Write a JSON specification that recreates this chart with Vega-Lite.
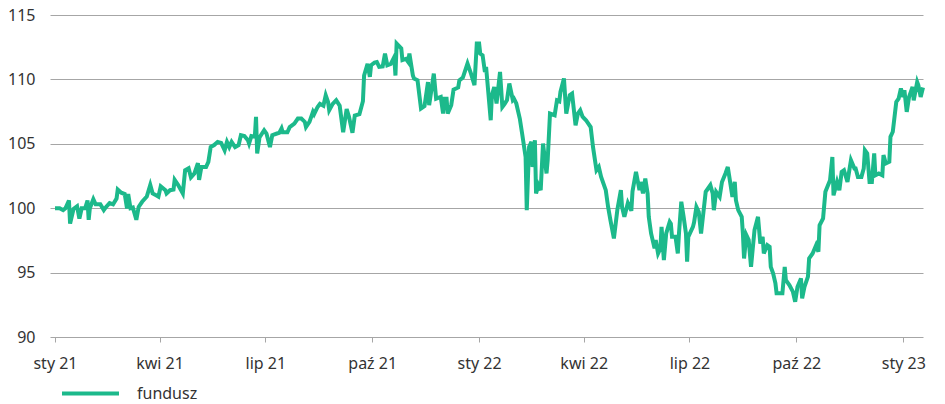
{
"$schema": "https://vega.github.io/schema/vega-lite/v6.json",
"width": 873,
"height": 322,
"autosize": {"type": "none"},
"padding": {"left": 50, "top": 15, "right": 22, "bottom": 67},
"background": "white",
"config": {"view": {"stroke": null}, "font": "Noto Sans"},
"data": {"values": [
{"date":"2021-01-01","value":100.0},{"date":"2021-01-05","value":100.0},{"date":"2021-01-08","value":99.85},{"date":"2021-01-10","value":100.0},{"date":"2021-01-13","value":100.6},{"date":"2021-01-14","value":98.8},{"date":"2021-01-17","value":99.95},{"date":"2021-01-20","value":100.15},{"date":"2021-01-22","value":99.2},{"date":"2021-01-24","value":100.0},{"date":"2021-01-27","value":100.0},{"date":"2021-01-29","value":100.6},{"date":"2021-01-30","value":99.1},{"date":"2021-01-31","value":100.0},
{"date":"2021-02-03","value":100.7},{"date":"2021-02-05","value":100.3},{"date":"2021-02-09","value":100.3},{"date":"2021-02-12","value":99.85},{"date":"2021-02-14","value":100.1},{"date":"2021-02-17","value":100.4},{"date":"2021-02-20","value":100.3},{"date":"2021-02-23","value":100.75},{"date":"2021-02-24","value":101.45},{"date":"2021-02-27","value":101.2},
{"date":"2021-03-02","value":101.1},{"date":"2021-03-04","value":99.98},{"date":"2021-03-05","value":101.1},{"date":"2021-03-07","value":100.0},{"date":"2021-03-09","value":100.05},{"date":"2021-03-12","value":99.1},{"date":"2021-03-14","value":100.1},{"date":"2021-03-17","value":100.5},{"date":"2021-03-21","value":100.9},{"date":"2021-03-24","value":101.8},{"date":"2021-03-26","value":101.15},{"date":"2021-03-29","value":101.0},{"date":"2021-03-31","value":100.9},
{"date":"2021-04-02","value":101.7},{"date":"2021-04-06","value":101.4},{"date":"2021-04-07","value":101.15},{"date":"2021-04-10","value":101.4},{"date":"2021-04-13","value":101.45},{"date":"2021-04-14","value":102.2},{"date":"2021-04-17","value":101.8},{"date":"2021-04-21","value":101.15},{"date":"2021-04-23","value":102.95},{"date":"2021-04-26","value":103.1},{"date":"2021-04-28","value":102.4},
{"date":"2021-05-01","value":102.7},{"date":"2021-05-04","value":103.5},{"date":"2021-05-05","value":102.2},{"date":"2021-05-07","value":103.2},{"date":"2021-05-11","value":103.2},{"date":"2021-05-13","value":103.6},{"date":"2021-05-15","value":104.75},{"date":"2021-05-18","value":104.9},{"date":"2021-05-21","value":105.15},{"date":"2021-05-24","value":105.07},{"date":"2021-05-27","value":104.5},{"date":"2021-05-29","value":105.15},{"date":"2021-05-31","value":104.75},
{"date":"2021-06-02","value":105.15},{"date":"2021-06-05","value":104.75},{"date":"2021-06-08","value":104.9},{"date":"2021-06-10","value":105.67},{"date":"2021-06-13","value":105.6},{"date":"2021-06-16","value":105.28},{"date":"2021-06-17","value":105.02},{"date":"2021-06-19","value":105.6},{"date":"2021-06-22","value":105.55},{"date":"2021-06-23","value":107.1},{"date":"2021-06-24","value":104.25},{"date":"2021-06-26","value":105.5},{"date":"2021-06-30","value":106.05},
{"date":"2021-07-02","value":105.8},{"date":"2021-07-05","value":104.75},{"date":"2021-07-07","value":105.67},{"date":"2021-07-11","value":105.8},{"date":"2021-07-13","value":105.85},{"date":"2021-07-15","value":106.2},{"date":"2021-07-16","value":105.9},{"date":"2021-07-20","value":105.9},{"date":"2021-07-22","value":106.3},{"date":"2021-07-26","value":106.57},{"date":"2021-07-29","value":106.96},
{"date":"2021-08-01","value":106.96},{"date":"2021-08-04","value":106.7},{"date":"2021-08-05","value":106.3},{"date":"2021-08-08","value":106.7},{"date":"2021-08-11","value":107.48},{"date":"2021-08-12","value":107.3},{"date":"2021-08-15","value":107.86},{"date":"2021-08-17","value":108.1},{"date":"2021-08-20","value":107.95},{"date":"2021-08-22","value":108.77},{"date":"2021-08-24","value":108.25},{"date":"2021-08-25","value":107.6},{"date":"2021-08-28","value":108.1},{"date":"2021-08-31","value":108.38},
{"date":"2021-09-03","value":107.95},{"date":"2021-09-06","value":105.9},{"date":"2021-09-09","value":107.7},{"date":"2021-09-11","value":107.1},{"date":"2021-09-14","value":105.85},{"date":"2021-09-16","value":107.2},{"date":"2021-09-20","value":107.3},{"date":"2021-09-23","value":108.3},{"date":"2021-09-24","value":110.3},{"date":"2021-09-27","value":111.2},{"date":"2021-09-29","value":110.2},{"date":"2021-09-30","value":111.1},
{"date":"2021-10-03","value":111.3},{"date":"2021-10-05","value":111.35},{"date":"2021-10-07","value":110.97},{"date":"2021-10-10","value":111.0},{"date":"2021-10-12","value":112.0},{"date":"2021-10-14","value":111.1},{"date":"2021-10-17","value":111.2},{"date":"2021-10-20","value":111.74},{"date":"2021-10-21","value":110.3},{"date":"2021-10-22","value":112.78},{"date":"2021-10-26","value":112.4},{"date":"2021-10-27","value":111.5},{"date":"2021-10-30","value":111.6},
{"date":"2021-11-01","value":111.35},{"date":"2021-11-02","value":112.0},{"date":"2021-11-05","value":110.3},{"date":"2021-11-06","value":110.06},{"date":"2021-11-09","value":109.93},{"date":"2021-11-12","value":107.74},{"date":"2021-11-15","value":107.92},{"date":"2021-11-18","value":109.8},{"date":"2021-11-19","value":108.0},{"date":"2021-11-23","value":110.45},{"date":"2021-11-25","value":108.5},{"date":"2021-11-29","value":108.64},
{"date":"2021-12-01","value":107.35},{"date":"2021-12-02","value":108.5},{"date":"2021-12-04","value":108.5},{"date":"2021-12-05","value":107.35},{"date":"2021-12-08","value":108.0},{"date":"2021-12-10","value":109.2},{"date":"2021-12-14","value":109.37},{"date":"2021-12-15","value":109.93},{"date":"2021-12-18","value":110.14},{"date":"2021-12-22","value":111.23},{"date":"2021-12-25","value":110.45},{"date":"2021-12-28","value":109.55},{"date":"2021-12-30","value":112.78},
{"date":"2022-01-01","value":112.78},{"date":"2022-01-02","value":112.0},{"date":"2022-01-04","value":111.87},{"date":"2022-01-06","value":110.58},{"date":"2022-01-07","value":110.97},{"date":"2022-01-11","value":106.83},{"date":"2022-01-12","value":108.77},{"date":"2022-01-14","value":109.4},{"date":"2022-01-16","value":108.13},{"date":"2022-01-19","value":110.58},{"date":"2022-01-21","value":107.86},{"date":"2022-01-23","value":108.1},{"date":"2022-01-25","value":108.4},{"date":"2022-01-27","value":109.68},{"date":"2022-01-30","value":108.4},{"date":"2022-01-31","value":108.5},
{"date":"2022-02-02","value":108.13},{"date":"2022-02-05","value":106.96},{"date":"2022-02-07","value":105.8},{"date":"2022-02-10","value":103.98},{"date":"2022-02-11","value":99.85},{"date":"2022-02-13","value":104.76},{"date":"2022-02-15","value":105.15},{"date":"2022-02-16","value":103.2},{"date":"2022-02-18","value":105.28},{"date":"2022-02-19","value":101.14},{"date":"2022-02-21","value":101.79},{"date":"2022-02-23","value":101.4},{"date":"2022-02-25","value":105.02},{"date":"2022-02-28","value":102.7},
{"date":"2022-03-01","value":103.73},{"date":"2022-03-03","value":107.35},{"date":"2022-03-07","value":107.22},{"date":"2022-03-09","value":108.38},{"date":"2022-03-11","value":108.3},{"date":"2022-03-12","value":109.03},{"date":"2022-03-15","value":110.07},{"date":"2022-03-17","value":107.35},{"date":"2022-03-20","value":108.77},{"date":"2022-03-22","value":108.9},{"date":"2022-03-25","value":106.44},{"date":"2022-03-27","value":107.35},{"date":"2022-03-29","value":107.6},{"date":"2022-03-31","value":107.1},
{"date":"2022-04-03","value":106.83},{"date":"2022-04-07","value":106.3},{"date":"2022-04-09","value":104.76},{"date":"2022-04-12","value":102.95},{"date":"2022-04-14","value":103.2},{"date":"2022-04-16","value":102.43},{"date":"2022-04-20","value":101.4},{"date":"2022-04-22","value":100.1},{"date":"2022-04-24","value":99.07},{"date":"2022-04-27","value":97.65},{"date":"2022-04-30","value":99.9},
{"date":"2022-05-03","value":101.4},{"date":"2022-05-04","value":100.1},{"date":"2022-05-06","value":99.33},{"date":"2022-05-09","value":100.4},{"date":"2022-05-12","value":99.8},{"date":"2022-05-13","value":101.3},{"date":"2022-05-16","value":102.82},{"date":"2022-05-19","value":101.4},{"date":"2022-05-20","value":102.04},{"date":"2022-05-22","value":101.15},{"date":"2022-05-24","value":102.3},{"date":"2022-05-26","value":101.15},{"date":"2022-05-27","value":99.33},{"date":"2022-05-29","value":98.04},
{"date":"2022-06-01","value":96.88},{"date":"2022-06-02","value":97.52},{"date":"2022-06-04","value":96.49},{"date":"2022-06-06","value":96.88},{"date":"2022-06-07","value":98.55},{"date":"2022-06-09","value":95.97},{"date":"2022-06-11","value":98.04},{"date":"2022-06-14","value":98.94},{"date":"2022-06-15","value":98.8},{"date":"2022-06-16","value":97.78},{"date":"2022-06-19","value":97.78},{"date":"2022-06-21","value":96.49},{"date":"2022-06-22","value":98.04},{"date":"2022-06-24","value":100.5},{"date":"2022-06-26","value":99.33},{"date":"2022-06-28","value":98.04},{"date":"2022-06-29","value":95.84},{"date":"2022-06-30","value":97.78},
{"date":"2022-07-04","value":98.55},{"date":"2022-07-05","value":98.9},{"date":"2022-07-07","value":100.1},{"date":"2022-07-09","value":99.72},{"date":"2022-07-11","value":98.04},{"date":"2022-07-15","value":101.27},{"date":"2022-07-17","value":101.53},{"date":"2022-07-19","value":101.79},{"date":"2022-07-21","value":101.15},{"date":"2022-07-22","value":99.85},{"date":"2022-07-24","value":101.27},{"date":"2022-07-27","value":100.88},{"date":"2022-07-29","value":102.04},
{"date":"2022-08-01","value":102.7},{"date":"2022-08-03","value":103.2},{"date":"2022-08-05","value":102.04},{"date":"2022-08-07","value":100.88},{"date":"2022-08-09","value":102.04},{"date":"2022-08-10","value":100.62},{"date":"2022-08-12","value":99.85},{"date":"2022-08-15","value":99.33},{"date":"2022-08-16","value":98.04},{"date":"2022-08-17","value":96.1},{"date":"2022-08-19","value":97.91},{"date":"2022-08-21","value":97.52},{"date":"2022-08-23","value":95.45},{"date":"2022-08-26","value":98.3},{"date":"2022-08-29","value":99.33},{"date":"2022-08-31","value":97.26},
{"date":"2022-09-02","value":97.78},{"date":"2022-09-03","value":96.49},{"date":"2022-09-06","value":97.13},{"date":"2022-09-08","value":97.0},{"date":"2022-09-09","value":95.45},{"date":"2022-09-11","value":94.94},{"date":"2022-09-13","value":94.16},{"date":"2022-09-14","value":93.39},{"date":"2022-09-19","value":93.39},{"date":"2022-09-21","value":95.45},{"date":"2022-09-22","value":94.42},{"date":"2022-09-25","value":94.03},{"date":"2022-09-28","value":93.52},{"date":"2022-09-30","value":92.74},
{"date":"2022-10-02","value":93.9},{"date":"2022-10-05","value":94.55},{"date":"2022-10-06","value":93.0},{"date":"2022-10-08","value":93.9},{"date":"2022-10-11","value":94.68},{"date":"2022-10-12","value":96.1},{"date":"2022-10-15","value":96.49},{"date":"2022-10-18","value":97.13},{"date":"2022-10-20","value":96.62},{"date":"2022-10-21","value":98.68},{"date":"2022-10-24","value":99.2},{"date":"2022-10-26","value":101.27},{"date":"2022-10-30","value":102.17},
{"date":"2022-11-01","value":103.98},{"date":"2022-11-02","value":101.0},{"date":"2022-11-05","value":102.04},{"date":"2022-11-07","value":101.4},{"date":"2022-11-09","value":102.82},{"date":"2022-11-11","value":102.95},{"date":"2022-11-14","value":102.04},{"date":"2022-11-17","value":103.73},{"date":"2022-11-20","value":103.08},{"date":"2022-11-21","value":103.08},{"date":"2022-11-23","value":102.43},{"date":"2022-11-26","value":102.43},{"date":"2022-11-28","value":103.08},{"date":"2022-11-29","value":104.5},
{"date":"2022-12-01","value":104.25},{"date":"2022-12-03","value":102.04},{"date":"2022-12-05","value":102.04},{"date":"2022-12-07","value":104.25},{"date":"2022-12-08","value":102.56},{"date":"2022-12-11","value":102.7},{"date":"2022-12-14","value":102.56},{"date":"2022-12-15","value":104.12},{"date":"2022-12-17","value":103.47},{"date":"2022-12-20","value":103.6},{"date":"2022-12-21","value":105.54},{"date":"2022-12-23","value":105.93},{"date":"2022-12-26","value":108.25},{"date":"2022-12-28","value":108.51},{"date":"2022-12-30","value":109.29},
{"date":"2023-01-01","value":108.64},{"date":"2023-01-02","value":109.16},{"date":"2023-01-04","value":107.48},{"date":"2023-01-06","value":108.64},{"date":"2023-01-09","value":109.41},{"date":"2023-01-10","value":108.38},{"date":"2023-01-13","value":109.8},{"date":"2023-01-14","value":109.55},{"date":"2023-01-16","value":108.64},{"date":"2023-01-18","value":109.37}
]},
"mark": {"type": "line", "strokeWidth": 4, "strokeJoin": "miter"},
"encoding": {
  "x": {
    "field": "date", "type": "temporal",
    "scale": {"domain": [{"year": 2020, "month": 12, "date": 27, "hours": 17}, {"year": 2023, "month": 1, "date": 18}]},
    "axis": {
      "title": null, "grid": false, "domain": false,
      "values": [{"year":2021,"month":1,"date":1},{"year":2021,"month":4,"date":1},{"year":2021,"month":7,"date":1},{"year":2021,"month":10,"date":1},{"year":2022,"month":1,"date":1},{"year":2022,"month":4,"date":1},{"year":2022,"month":7,"date":1},{"year":2022,"month":10,"date":1},{"year":2023,"month":1,"date":1}],
      "labelExpr": "['sty','lut','mar','kwi','maj','cze','lip','sie','wrz','paź','lis','gru'][month(datum.value)] + ' ' + timeFormat(datum.value, '%y')",
      "tickColor": "#a6a6a6", "tickSize": 5, "labelPadding": 13,
      "labelFontSize": 16, "labelColor": "#333333", "labelFlush": false
    }
  },
  "y": {
    "field": "value", "type": "quantitative",
    "scale": {"domain": [90, 115], "nice": false, "zero": false},
    "axis": {
      "title": null, "values": [90, 95, 100, 105, 110, 115],
      "domain": false, "ticks": false, "grid": true, "gridColor": "#a6a6a6", "gridWidth": 1,
      "labelPadding": 15, "labelFontSize": 16, "labelColor": "#333333"
    }
  },
  "color": {
    "datum": "fundusz", "type": "nominal",
    "scale": {"range": ["#1cb98b"]},
    "legend": {
      "title": null, "orient": "none", "legendX": 10, "legendY": 348, "padding": 0,
      "symbolType": "stroke", "symbolSize": 3249, "symbolStrokeWidth": 4,
      "labelFontSize": 16, "labelColor": "#333333", "labelOffset": 16
    }
  }
}
}
